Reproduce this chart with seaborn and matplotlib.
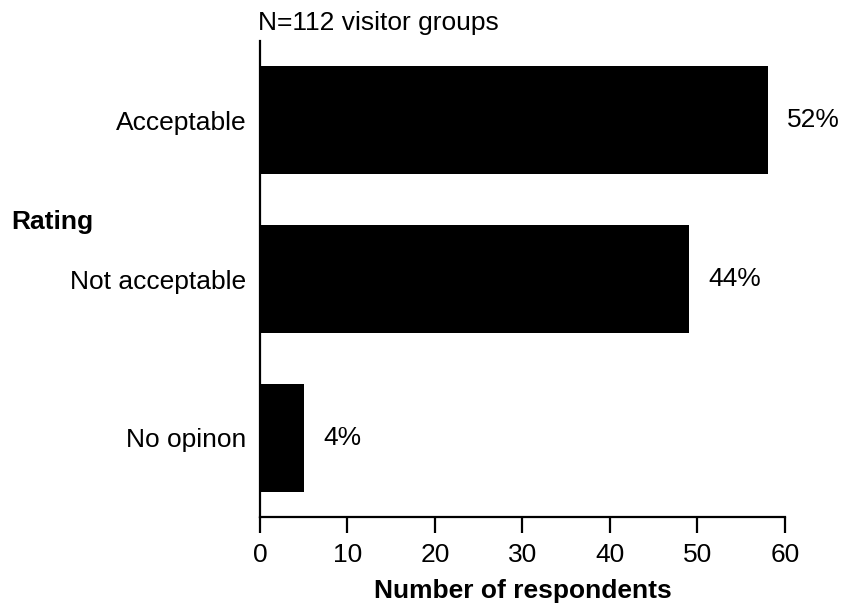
import matplotlib
matplotlib.use("Agg")
import matplotlib.pyplot as plt
import seaborn as sns
import pandas as pd

# Survey responses
ratings = ["Acceptable", "Not acceptable", "No opinon"]
counts = [58, 49, 5]
percent_labels = ["52%", "44%", "4%"]
subtitle = "N=112 visitor groups"

sns.set_style("white")
plt.rcParams["font.family"] = ["Liberation Sans", "DejaVu Sans"]
plt.rcParams["text.color"] = "black"
plt.rcParams["axes.labelcolor"] = "black"
plt.rcParams["xtick.color"] = "black"
plt.rcParams["ytick.color"] = "black"

FS = 19

df = pd.DataFrame({"Rating": ratings, "Count": counts})

fig = plt.figure(figsize=(8.46, 6.04), dpi=100)
ax = fig.add_axes([0.3073, 0.1440, 0.6206, 0.7881])

sns.barplot(data=df, x="Count", y="Rating", color="black", width=0.68,
            saturation=1, ax=ax)
for p in ax.patches:
    p.set_edgecolor("none")

ax.set_xlim(0, 60)
ax.set_ylim(2.5, -0.5)
ax.set_xticks([0, 10, 20, 30, 40, 50, 60])

sns.despine(ax=ax, top=True, right=True)
for side in ("left", "bottom"):
    ax.spines[side].set_linewidth(1.6)
    ax.spines[side].set_color("black")

ax.tick_params(axis="x", length=11.5, width=1.6, pad=7.5, labelsize=FS,
               bottom=True, colors="black")
ax.tick_params(axis="y", length=0, pad=10, labelsize=FS, left=False,
               colors="black")

ax.set_xlabel("Number of respondents", fontsize=FS, fontweight="bold",
              labelpad=8.5, color="black")
ax.set_ylabel("")

# Value labels to the right of each bar
for i, (c, lab) in enumerate(zip(counts, percent_labels)):
    ax.annotate(lab, xy=(c, i), xytext=(14, 0), textcoords="offset points",
                ha="left", va="center", fontsize=FS, color="black",
                annotation_clip=False)

fig.text(258 / 846, 1 - 23 / 604, subtitle, ha="left", va="center",
         fontsize=FS, color="black")
fig.text(11 / 846, 1 - 222 / 604, "Rating", ha="left", va="center",
         fontsize=FS, fontweight="bold", color="black")

fig.savefig("out.png", dpi=100)
